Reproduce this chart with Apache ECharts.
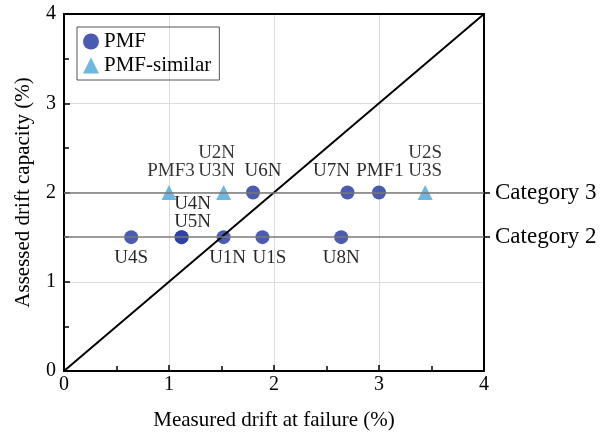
<!DOCTYPE html>
<html>
<head>
<meta charset="utf-8">
<script src="https://cdn.jsdelivr.net/npm/echarts@6/dist/echarts.min.js"></script>
<style>
  html, body { margin: 0; padding: 0; background: #fff; }
  #chart { width: 612px; height: 436px; }
</style>
</head>
<body>
<div id="chart"></div>
<script>
// PMF specimens (circles)
var pmfX = [0.64, 1.12, 1.12, 1.52, 1.89, 2.64, 1.80, 2.70, 3.00];
var pmfY = [1.5, 1.5, 1.5, 1.5, 1.5, 1.5, 2.0, 2.0, 2.0];
var pmfNames = ['U4S', 'U4N\nU5N', '', 'U1N', 'U1S', 'U8N', 'U6N', 'U7N', 'PMF1'];

// PMF-similar specimens (triangles)
var simX = [1.00, 1.52, 3.44];
var simY = [2.0, 2.0, 2.0];
var simNames = ['PMF3', 'U2N\nU3N', 'U2S\nU3S'];

// 1:1 line and category levels
var diagX = [0, 4];
var diagY = [0, 4];
var categoryLevels = [1.5, 2.0];
var categoryNames = ['Category 2', 'Category 3'];

// label placement (layout only)
var pmfLabelPos = ['bottom', 'top', 'top', 'bottom', 'bottom', 'bottom', 'top', 'top', 'top'];
var pmfLabelOff = [[0, 0], [11, 6], [0, 0], [4, 0], [7, 0], [0, 0], [10, 0], [-16, 0], [1, 0]];
var simLabelOff = [[2, 0], [-7, 0], [0, 0]];

var FONT = '"Liberation Serif", "DejaVu Serif", serif';

function build(xs, ys, names, pos, off) {
	var out = [];
	for (var i = 0; i < xs.length; i++) {
		out.push({
			value: [xs[i], ys[i]],
			name: names[i],
			label: { position: pos ? pos[i] : 'top', offset: off[i] }
		});
	}
	return out;
}

var dom = document.getElementById('chart');
var myChart = echarts.init(dom);

var axisLineStyle = { color: '#000', width: 2 };

option = {
	animation: false,
	textStyle: { fontFamily: FONT },
	grid: {
		left: 64,
		right: 128,
		top: 14,
		bottom: 64
	},
	legend: {
		left: 77,
		top: 27,
		orient: 'vertical',
		borderColor: '#555',
		borderWidth: 1,
		padding: [4, 8, 4, 6],
		itemGap: 3,
		itemWidth: 16,
		itemHeight: 16,
		textStyle: { fontFamily: FONT, fontSize: 21, color: '#000' },
		data: [
			{ name: 'PMF', icon: 'circle' },
			{ name: 'PMF-similar', icon: 'triangle' }
		]
	},
	xAxis: [
		{
			type: 'value',
			min: 0,
			max: 4,
			interval: 1,
			name: 'Measured drift at failure (%)',
			nameLocation: 'middle',
			nameGap: 39,
			nameTextStyle: { fontFamily: FONT, fontSize: 21, color: '#000' },
			axisLine: { show: true, onZero: false, lineStyle: axisLineStyle },
			axisTick: { show: true, inside: true, length: 6, lineStyle: { color: '#000', width: 1.5 } },
			minorTick: { show: true, splitNumber: 2, length: 5, lineStyle: { color: '#000', width: 1.5 } },
			axisLabel: { fontFamily: FONT, fontSize: 20, color: '#000', margin: 4 },
			splitLine: { show: true, lineStyle: { color: '#dcdcdc', width: 1 } }
		},
		{
			type: 'value',
			position: 'top',
			min: 0,
			max: 4,
			interval: 1,
			axisLine: { show: true, onZero: false, lineStyle: axisLineStyle },
			axisTick: { show: false },
			axisLabel: { show: false },
			splitLine: { show: false }
		}
	],
	yAxis: [
		{
			type: 'value',
			min: 0,
			max: 4,
			interval: 1,
			name: 'Assessed drift capacity (%)',
			nameLocation: 'middle',
			nameGap: 30,
			nameTextStyle: { fontFamily: FONT, fontSize: 21, color: '#000' },
			axisLine: { show: true, onZero: false, lineStyle: axisLineStyle },
			axisTick: { show: true, inside: true, length: 6, lineStyle: { color: '#000', width: 1.5 } },
			minorTick: { show: true, splitNumber: 2, length: 5, lineStyle: { color: '#000', width: 1.5 } },
			axisLabel: { fontFamily: FONT, fontSize: 20, color: '#000', margin: 8 },
			splitLine: { show: true, lineStyle: { color: '#dcdcdc', width: 1 } }
		},
		{
			type: 'value',
			position: 'right',
			min: 0,
			max: 4,
			interval: 1,
			axisLine: { show: true, onZero: false, lineStyle: axisLineStyle },
			axisTick: {
				show: true,
				length: 6,
				customValues: categoryLevels,
				lineStyle: { color: '#000', width: 1.5 }
			},
			axisLabel: {
				show: true,
				customValues: categoryLevels,
				fontFamily: FONT,
				fontSize: 23,
				color: '#000',
				margin: 11,
				formatter: function (v) {
					var i = categoryLevels.indexOf(v);
					return i >= 0 ? categoryNames[i] : '';
				}
			},
			splitLine: { show: false }
		}
	],
	series: [
		{
			name: 'levels',
			type: 'line',
			data: [],
			silent: true,
			markLine: {
				symbol: 'none',
				silent: true,
				label: { show: false },
				lineStyle: { color: '#7a7a7a', width: 1.6, type: 'solid' },
				data: categoryLevels.map(function (v) { return { yAxis: v }; })
			}
		},
		{
			name: 'PMF',
			type: 'scatter',
			symbol: 'circle',
			symbolSize: 14,
			z: 3,
			itemStyle: { color: '#2a3ea3', opacity: 0.85 },
			label: {
				show: true,
				formatter: '{b}',
				fontFamily: FONT,
				fontSize: 19,
				lineHeight: 18,
				color: '#000',
				distance: 5
			},
			data: build(pmfX, pmfY, pmfNames, pmfLabelPos, pmfLabelOff)
		},
		{
			name: 'PMF-similar',
			type: 'scatter',
			symbol: 'triangle',
			symbolSize: 15,
			z: 3,
			itemStyle: { color: '#4aa5d6' },
			label: {
				show: true,
				formatter: '{b}',
				fontFamily: FONT,
				fontSize: 19,
				lineHeight: 18,
				color: '#000',
				distance: 5
			},
			data: build(simX, simY, simNames, null, simLabelOff)
		},
		{
			name: 'diag',
			type: 'line',
			symbol: 'none',
			silent: true,
			z: 4,
			lineStyle: { color: '#000', width: 2 },
			data: diagX.map(function (x, i) { return [x, diagY[i]]; })
		}
	]
};

if (option && typeof option === 'object') {
	myChart.setOption(option, true);
}
</script>
</body>
</html>
